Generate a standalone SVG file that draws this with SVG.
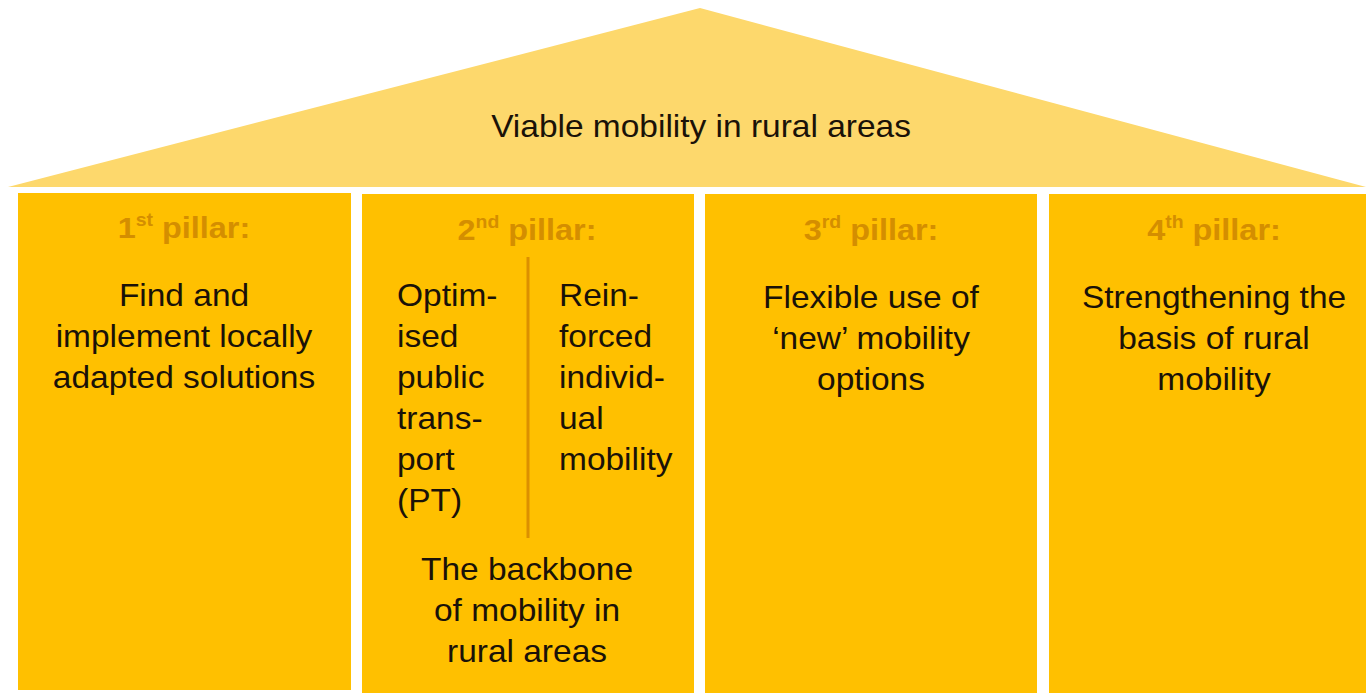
<svg xmlns="http://www.w3.org/2000/svg" width="1366" height="693" viewBox="0 0 1366 693">
<style>
.roof{fill:#FDD86C}
.pillar{fill:#FFC000}
.t{font-family:"Liberation Sans",Arial,sans-serif;font-size:31px;fill:#1a1208}
.lbl{font-family:"Liberation Sans",Arial,sans-serif;font-size:30px;font-weight:bold;fill:#D48E00}
.sup{font-size:18px}
.mid{text-anchor:middle}
.div{stroke:#DC9000;stroke-width:3}
</style>
<rect width="1366" height="693" fill="#ffffff"/>
<g id="roof">
<polygon class="roof" points="8,187 700,8 1366,187"/>
<g transform="translate(701 0) scale(1.08 1)"><text class="t mid" x="0" y="137">Viable mobility in rural areas</text></g>
</g>
<g id="pillar1">
<rect class="pillar" x="18" y="193" width="333" height="497"/>
<g transform="translate(184 0) scale(1.08 1)">
<text class="lbl mid" x="0" y="238">1<tspan class="sup" dy="-12">st</tspan><tspan dy="12"> pillar:</tspan></text>
<text class="t mid" x="0" y="306">Find and</text>
<text class="t mid" x="0" y="347">implement locally</text>
<text class="t mid" x="0" y="388">adapted solutions</text>
</g>
</g>
<g id="pillar2">
<rect class="pillar" x="362" y="194" width="332" height="499"/>
<g transform="translate(527 0) scale(1.08 1)">
<text class="lbl mid" x="0" y="240">2<tspan class="sup" dy="-12">nd</tspan><tspan dy="12"> pillar:</tspan></text>
<text class="t mid" x="0" y="580">The backbone</text>
<text class="t mid" x="0" y="621">of mobility in</text>
<text class="t mid" x="0" y="662">rural areas</text>
</g>
<g transform="translate(397 0) scale(1.08 1)">
<text class="t" x="0" y="306">Optim-</text>
<text class="t" x="0" y="347">ised</text>
<text class="t" x="0" y="388">public</text>
<text class="t" x="0" y="429">trans-</text>
<text class="t" x="0" y="470">port</text>
<text class="t" x="0" y="511">(PT)</text>
</g>
<g transform="translate(559 0) scale(1.08 1)">
<text class="t" x="0" y="306">Rein-</text>
<text class="t" x="0" y="347">forced</text>
<text class="t" x="0" y="388">individ-</text>
<text class="t" x="0" y="429">ual</text>
<text class="t" x="0" y="470">mobility</text>
</g>
<line class="div" x1="528" y1="257" x2="528" y2="538"/>
</g>
<g id="pillar3">
<rect class="pillar" x="705" y="194" width="332" height="499"/>
<g transform="translate(871 0) scale(1.08 1)">
<text class="lbl mid" x="0" y="240">3<tspan class="sup" dy="-12">rd</tspan><tspan dy="12"> pillar:</tspan></text>
<text class="t mid" x="0" y="308">Flexible use of</text>
<text class="t mid" x="0" y="349">‘new’ mobility</text>
<text class="t mid" x="0" y="390">options</text>
</g>
</g>
<g id="pillar4">
<rect class="pillar" x="1049" y="194" width="330" height="499"/>
<g transform="translate(1214 0) scale(1.08 1)">
<text class="lbl mid" x="0" y="240">4<tspan class="sup" dy="-12">th</tspan><tspan dy="12"> pillar:</tspan></text>
<text class="t mid" x="0" y="308">Strengthening the</text>
<text class="t mid" x="0" y="349">basis of rural</text>
<text class="t mid" x="0" y="390">mobility</text>
</g>
</g>
<g id="connectors"></g>
</svg>
